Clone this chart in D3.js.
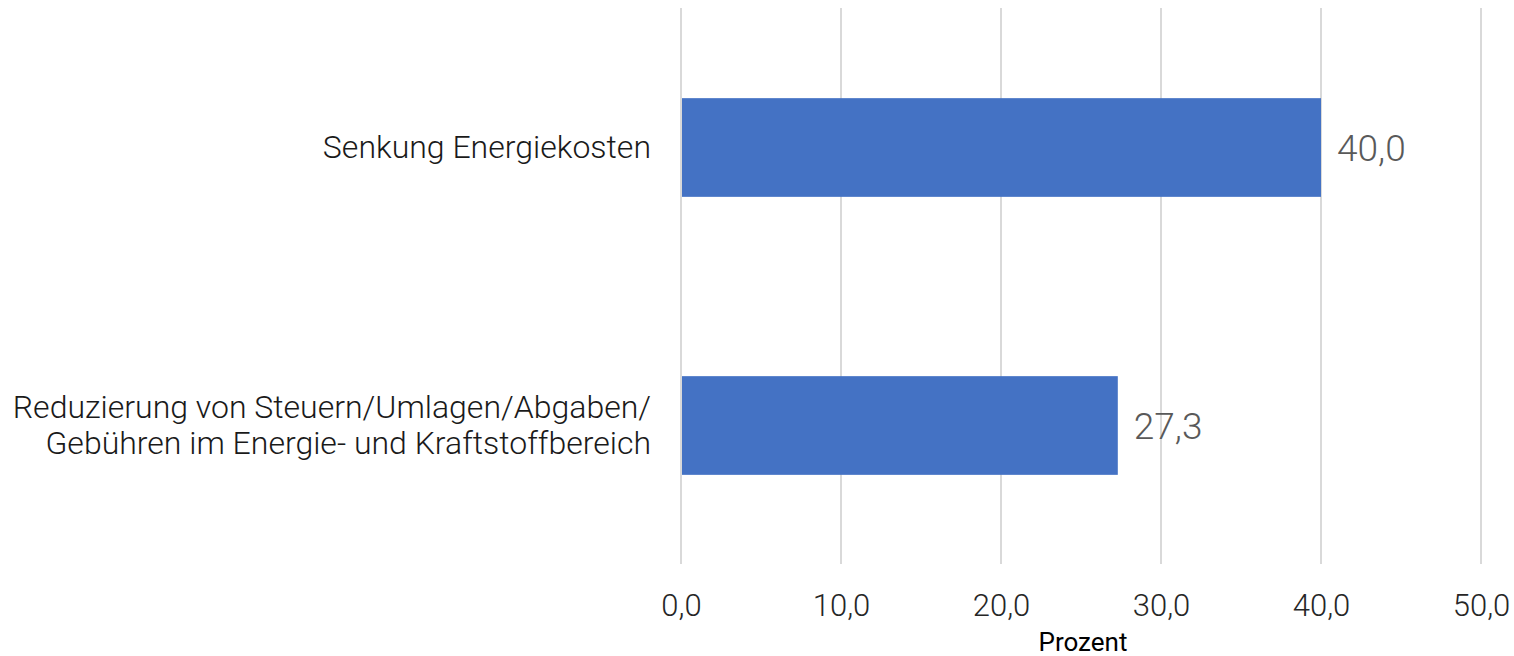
<!DOCTYPE html>
<html>
<head>
<meta charset="utf-8">
<script src="https://cdn.jsdelivr.net/npm/d3@7"></script>
<style>
  html, body { margin: 0; padding: 0; background: #fff; }
  svg { display: block; }
  text { font-family: Roboto, "Noto Sans", sans-serif; }
</style>
</head>
<body>
<svg id="chart" width="1514" height="656"></svg>
<script>
// Kategorien (mehrzeilig), Werte in Prozent und Achsenticks
const categories = [
  ["Senkung Energiekosten"],
  ["Reduzierung von Steuern/Umlagen/Abgaben/", "Gebühren im Energie- und Kraftstoffbereich"]
];
const values = [40.0, 27.3];
const xTicks = [0, 10, 20, 30, 40, 50];
const axisTitle = "Prozent";

const svg = d3.select("#chart");
const fmt = v => d3.format(".1f")(v).replace(".", ",");

const x = d3.scaleLinear().domain([0, 50]).range([681, 1481]);
const y = d3.scaleBand()
  .domain(d3.range(categories.length))
  .range([8.5, 564.5])
  .paddingInner(0.645)
  .paddingOuter(0.3225);

// Vertikale Gitterlinien
svg.append("g")
  .selectAll("line")
  .data(xTicks)
  .join("line")
  .attr("x1", d => x(d)).attr("x2", d => x(d))
  .attr("y1", 8).attr("y2", 564)
  .attr("stroke", "#d9d9d9")
  .attr("stroke-width", 2);

// Balken
svg.append("g")
  .selectAll("rect")
  .data(values)
  .join("rect")
  .attr("x", x(0) + 1)
  .attr("y", (d, i) => y(i))
  .attr("width", d => x(d) - x(0) - 1)
  .attr("height", y.bandwidth())
  .attr("fill", "#4472c4");

// Werte rechts neben den Balken
svg.append("g")
  .selectAll("text")
  .data(values)
  .join("text")
  .attr("x", d => x(d) + 16)
  .attr("y", (d, i) => y(i) + y.bandwidth() / 2 + 13.5)
  .attr("font-size", 37)
  .attr("font-weight", 300)
  .attr("fill", "#595959")
  .text(d => fmt(d));

// Kategorienbeschriftungen
const cat = svg.append("g")
  .selectAll("text")
  .data(categories)
  .join("text")
  .attr("text-anchor", "end")
  .attr("font-size", 32)
  .attr("font-weight", 300)
  .attr("fill", "#1a1a1a");
cat.each(function(lines, i) {
  const c = y(i) + y.bandwidth() / 2;
  d3.select(this).selectAll("tspan")
    .data(lines)
    .join("tspan")
    .attr("x", 651)
    .attr("y", (l, j) => c + 10.5 + (j - (lines.length - 1) / 2) * 36)
    .text(l => l);
});

// x-Achse (nur Beschriftungen)
const axis = svg.append("g")
  .attr("transform", "translate(0,590)")
  .call(d3.axisBottom(x).tickValues(xTicks).tickFormat(fmt).tickSize(0).tickPadding(0));
axis.select(".domain").remove();
axis.selectAll("text")
  .attr("dy", null)
  .attr("y", 26)
  .attr("font-family", "Roboto, sans-serif")
  .attr("font-size", 31)
  .attr("font-weight", 300)
  .attr("fill", "#262626");

// Achsentitel
svg.append("text")
  .attr("x", 1083)
  .attr("y", 651)
  .attr("text-anchor", "middle")
  .attr("font-size", 26)
  .attr("fill", "#000")
  .text(axisTitle);
</script>
</body>
</html>
